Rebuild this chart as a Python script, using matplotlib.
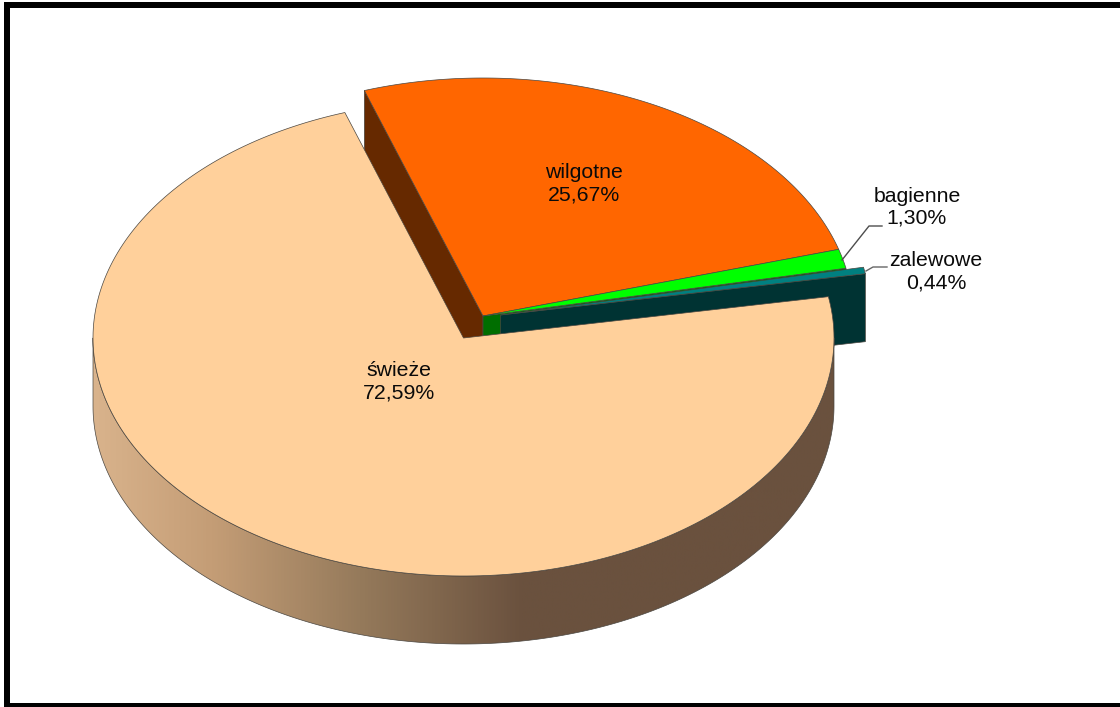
import numpy as np
import matplotlib
matplotlib.use("Agg")
import matplotlib.pyplot as plt
from matplotlib.patches import Polygon, Rectangle
from matplotlib.colors import LinearSegmentedColormap

# --- data ---
categories = ["świeże", "wilgotne", "bagienne", "zalewowe"]
shares = [72.59, 25.67, 1.30, 0.44]
share_labels = ["72,59%", "25,67%", "1,30%", "0,44%"]

# --- styles ---
top_colors = ["#FFD09B", "#FF6600", "#00FF00", "#008080"]
side_colors = ["#6A513E", "#662900", "#006E00", "#003333"]
apexes = [(463.5, 338), (483, 316), (483, 316), (500.5, 315)]
label_pos = [(399, 382), (584, 184), (917, 207), (936, 272)]
grad_stops = [(0.0, "#D9B38C"), (0.16, "#C49D76"), (0.36, "#957A5B"), (0.58, "#6A513E"), (1.0, "#6A513E")]
RX, RY, DEPTH = 370.5, 238, 68
START_DEG = 10.0

plt.rcParams["font.family"] = ["Liberation Sans", "DejaVu Sans"]
fig = plt.figure(figsize=(11.2, 7.07), dpi=100)
ax = fig.add_axes([0, 0, 1, 1])
ax.set_xlim(0, 1120)
ax.set_ylim(707, 0)
ax.axis("off")

def pt(apex, deg, dz=0):
    a = np.radians(deg)
    return apex[0] + RX * np.cos(a), apex[1] - RY * np.sin(a) + dz

def arc(apex, a0, a1, dz=0, n=240):
    return np.column_stack(pt(apex, np.linspace(a0, a1, n), dz))

# angular ranges: fresh runs clockwise from START_DEG, the others follow it
bounds = {}
fresh_lo, fresh_hi = START_DEG - 360 * shares[0] / 100, START_DEG
ang = fresh_lo + 360
for i in (1, 2, 3):
    bounds[i] = (ang - 360 * shares[i] / 100, ang)
    ang = bounds[i][0]
bounds[0] = (fresh_lo, fresh_hi)

EDGE = dict(edgecolor="#4a4640", linewidth=0.5, joinstyle="round")

def top_poly(i):
    a0, a1 = bounds[i]
    return np.vstack([[apexes[i]], arc(apexes[i], a0, a1)])

def cut_wall(i, deg):
    ap = apexes[i]
    p = pt(ap, deg)
    return [ap, p, (p[0], p[1] + DEPTH), (ap[0], ap[1] + DEPTH)]

# exploded slices, back to front
for i in (1, 2, 3):
    a0, a1 = bounds[i]
    wall_deg = a1 if i == 1 else a0
    ax.add_patch(Polygon(cut_wall(i, wall_deg), closed=True, facecolor=side_colors[i], zorder=2 + i, **EDGE))
    ax.add_patch(Polygon(top_poly(i), closed=True, facecolor=top_colors[i], zorder=2.5 + i, **EDGE))

# fresh slice outer wall with gradient
ap = apexes[0]
upper = arc(ap, -180, 0)
lower = arc(ap, 0, -180, DEPTH)
wall = Polygon(np.vstack([upper, lower]), closed=True, facecolor="none", zorder=7, **EDGE)
cmap = LinearSegmentedColormap.from_list("wall", grad_stops)
xl, xr = ap[0] - RX, ap[0] + RX
im = ax.imshow(np.linspace(0, 1, 512)[None, :], cmap=cmap, vmin=0, vmax=1, aspect="auto",
               extent=(xl, xr, ap[1] + RY + DEPTH + 2, ap[1] - 2), zorder=6.5)
ax.add_patch(wall)
im.set_clip_path(wall)
ax.set_xlim(0, 1120)
ax.set_ylim(707, 0)

# fresh slice top
ax.add_patch(Polygon(top_poly(0), closed=True, facecolor=top_colors[0], zorder=8, **EDGE))

# labels
for i in range(4):
    x, y = label_pos[i]
    ax.text(x, y, f"{categories[i]}\n{share_labels[i]}", ha="center", va="center",
            fontsize=15.3, color="#0a0a0a", linespacing=1.2, zorder=10)

# leader lines
ax.plot([842, 869, 882], [260, 226, 226], color="#4d4d4d", lw=1.0, zorder=9)
ax.plot([866, 873, 887], [271, 267, 267], color="#666666", lw=1.0, zorder=9)

# frame (open to the right)
ax.add_patch(Rectangle((4, 2), 1116, 6, facecolor="black", edgecolor="none", zorder=11))
ax.add_patch(Rectangle((4, 2), 6, 705, facecolor="black", edgecolor="none", zorder=11))
ax.add_patch(Rectangle((4, 703), 1116, 4, facecolor="black", edgecolor="none", zorder=11))

fig.savefig("out.png", dpi=100)
